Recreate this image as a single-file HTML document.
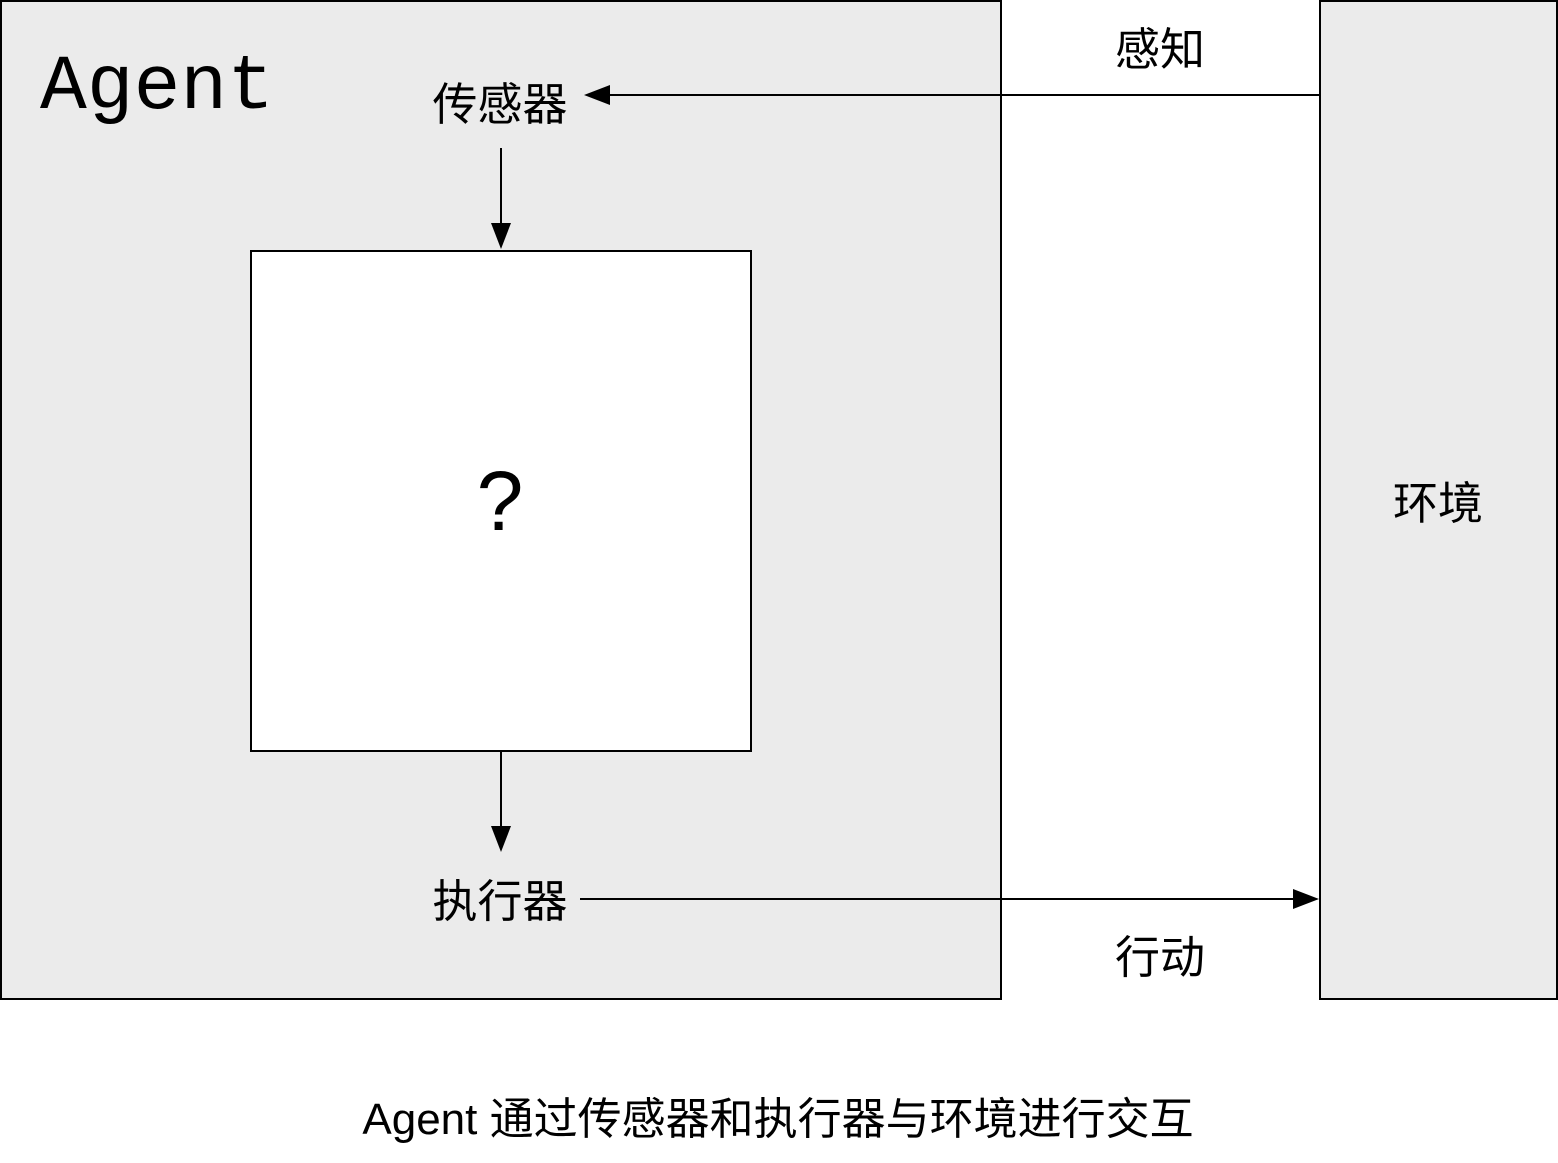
<!DOCTYPE html>
<html><head><meta charset="utf-8"><style>
html,body{margin:0;padding:0;background:#fff;}
svg{display:block;}
.cjk{font-family:"Liberation Sans","Noto Sans CJK SC",sans-serif;}
</style></head><body>
<svg width="1558" height="1163" viewBox="0 0 1558 1163" xmlns="http://www.w3.org/2000/svg">
<rect x="1" y="1" width="1000" height="998" fill="#ebebeb" stroke="#000" stroke-width="2"/>
<rect x="251" y="251" width="500" height="500" fill="#fff" stroke="#000" stroke-width="2"/>
<rect x="1320" y="1" width="237" height="998" fill="#ebebeb" stroke="#000" stroke-width="2"/>
<text x="40" y="108" font-family="Liberation Mono, DejaVu Sans Mono, monospace" font-size="78">Agent</text>
<g class="cjk" font-size="45" text-anchor="middle">
<text x="500" y="120">传感器</text>
<text x="500" y="917">执行器</text>
<text x="1160" y="65">感知</text>
<text x="1160" y="973">行动</text>
<text x="1438" y="519">环境</text>
</g>
<text x="500" y="530" font-family="Liberation Sans, sans-serif" font-size="84" text-anchor="middle">?</text>
<text x="778" y="1134" class="cjk" font-size="44" text-anchor="middle">Agent 通过传感器和执行器与环境进行交互</text>
<g stroke="#000" stroke-width="2" fill="none">
<line x1="1320" y1="95" x2="605" y2="95"/>
<line x1="501" y1="148" x2="501" y2="228"/>
<line x1="501" y1="751" x2="501" y2="828"/>
<line x1="580" y1="899" x2="1295" y2="899"/>
</g>
<g fill="#000">
<polygon points="584,95 610,85 610,105"/>
<polygon points="501,249 491,223 511,223"/>
<polygon points="501,852 491,826 511,826"/>
<polygon points="1319,899 1293,889 1293,909"/>
</g>
</svg>
</body></html>
